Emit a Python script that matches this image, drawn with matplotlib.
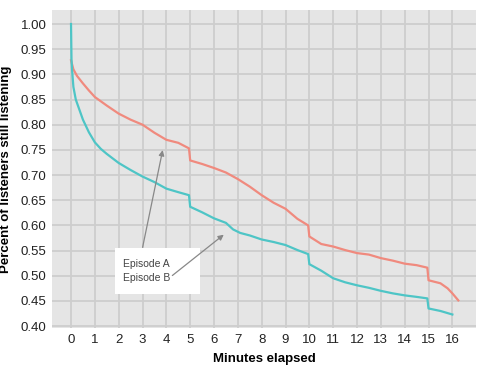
import matplotlib.pyplot as plt
from matplotlib.patches import Rectangle

# Episode A (red) retention curve
a_minutes = [0, 0.1, 0.25, 0.5, 0.75, 1, 1.5, 2, 2.5, 3, 3.5, 4, 4.5, 4.95, 5.0,
             5.5, 6, 6.5, 7, 7.5, 8, 8.5, 9, 9.5, 9.95, 10.0, 10.5, 11, 11.5, 12,
             12.5, 13, 13.5, 14, 14.5, 14.95, 15.0, 15.5, 15.8, 16, 16.25]
a_share = [0.928, 0.91, 0.897, 0.882, 0.868, 0.855, 0.838, 0.822, 0.81, 0.80, 0.784,
           0.77, 0.764, 0.753, 0.729, 0.722, 0.714, 0.705, 0.692, 0.677, 0.660, 0.645,
           0.633, 0.613, 0.600, 0.578, 0.563, 0.558, 0.551, 0.545, 0.542, 0.535, 0.530,
           0.524, 0.521, 0.516, 0.491, 0.485, 0.475, 0.465, 0.451]

# Episode B (teal) retention curve
b_minutes = [0, 0.02, 0.05, 0.1, 0.2, 0.35, 0.5, 0.75, 1, 1.25, 1.5, 2, 2.5, 3, 3.5,
             4, 4.5, 4.95, 5.0, 5.5, 6, 6.5, 6.8, 7.1, 7.5, 8, 8.5, 9, 9.5, 9.95,
             10.0, 10.5, 11, 11.5, 12, 12.5, 13, 13.5, 14, 14.5, 14.95, 15.0, 15.5,
             16]
b_share = [1.0, 0.93, 0.905, 0.875, 0.85, 0.83, 0.81, 0.785, 0.765, 0.752, 0.742,
           0.724, 0.710, 0.697, 0.686, 0.673, 0.666, 0.660, 0.637, 0.626, 0.614,
           0.605, 0.592, 0.585, 0.580, 0.572, 0.567, 0.561, 0.551, 0.543, 0.523,
           0.510, 0.495, 0.487, 0.481, 0.476, 0.470, 0.465, 0.461, 0.458, 0.455,
           0.435, 0.430, 0.423]

x_ticks = list(range(0, 17))
y_ticks = [0.40, 0.45, 0.50, 0.55, 0.60, 0.65, 0.70, 0.75, 0.80, 0.85, 0.90, 0.95, 1.00]

plt.rcParams['font.family'] = ['Liberation Sans', 'DejaVu Sans']

fig = plt.figure(figsize=(4.81, 3.67), dpi=100)
ax = fig.add_axes([0.108, 0.106, 0.882, 0.867])
ax.set_facecolor('#e5e5e5')

ax.plot(a_minutes, a_share, color='#f08a7e', linewidth=1.6)
ax.plot(b_minutes, b_share, color='#4ec5c6', linewidth=1.6)

ax.set_xlim(-0.8, 17.0)
ax.set_ylim(0.396, 1.028)
ax.set_xticks(x_ticks)
ax.set_yticks(y_ticks)
ax.set_yticklabels([f"{v:.2f}" for v in y_ticks])
ax.grid(True, color='#cdcdcd', linewidth=1.3)
ax.set_axisbelow(True)
for s in ax.spines.values():
    s.set_visible(False)
ax.tick_params(length=0, labelsize=9.5, colors='#222222', pad=4)

ax.set_xlabel("Minutes elapsed", fontsize=9.5, fontweight='bold', labelpad=5)
ax.set_ylabel("Percent of listeners still listening", fontsize=9.5,
              fontweight='bold', labelpad=6)

# annotation box with arrows
ax.add_patch(Rectangle((1.85, 0.463), 3.57, 0.092, facecolor='white',
                       edgecolor='none', zorder=3))
ax.text(2.18, 0.51, "Episode A\nEpisode B", fontsize=7.5, color='#444444',
        va='center', ha='left', linespacing=1.45, zorder=4)
ax.annotate("", xy=(3.87, 0.755), xytext=(2.98, 0.551),
            arrowprops=dict(arrowstyle='-|>', color='#888888', lw=0.9,
                            mutation_scale=8), zorder=4)
ax.annotate("", xy=(6.5, 0.585), xytext=(4.16, 0.497),
            arrowprops=dict(arrowstyle='-|>', color='#888888', lw=0.9,
                            mutation_scale=8), zorder=4)

fig.savefig("out.png", dpi=100)
